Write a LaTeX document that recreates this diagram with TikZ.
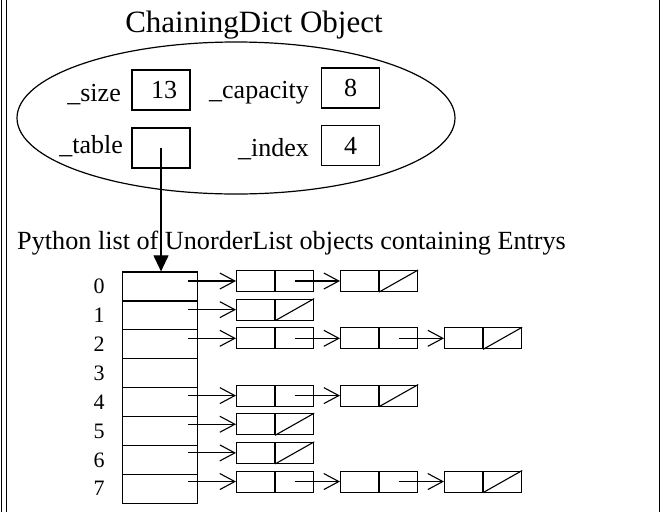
\documentclass[tikz,border=0pt]{standalone}
\usepackage{fontspec}
\setmainfont{Liberation Serif}
\usetikzlibrary{shapes.geometric,arrows.meta}
\tikzset{
  lbl/.style={font=\fontsize{26}{26}\selectfont, inner sep=0pt},
  valbox/.style={draw, line width=1.2pt, minimum width=58pt, minimum height=40pt, inner sep=0pt, font=\fontsize{26}{26}\selectfont},
  cellbox/.style={draw, line width=1.2pt, minimum width=75pt, minimum height=28.9pt, inner sep=0pt},
  fieldbox/.style={draw, line width=1.1pt, minimum width=38pt, minimum height=21pt, inner sep=0pt},
  idx/.style={font=\fontsize{22}{22}\selectfont, inner sep=0pt},
  ptr/.style={line width=1.1pt, -{Straight Barb[length=15pt,width=16pt,line width=1.1pt]}},
  tblptr/.style={line width=1.1pt, -{Triangle[length=16pt,width=15pt]}},
  border/.style={line width=1pt}
}
\begin{document}
\begin{tikzpicture}[x=1pt,y=-1pt]
\useasboundingbox (0,0) rectangle (662,512);
% page borders
\draw[border] (1.5,0) -- (1.5,512);
\draw[border] (6,0) -- (6,512);
\draw[border] (659,0) -- (659,512);

% title
\node[font=\fontsize{31}{31}\selectfont, anchor=base, inner sep=0pt] (title) at (254,32) {ChainingDict Object};

% object ellipse
\node[ellipse, draw, line width=1.2pt, minimum width=438pt, minimum height=152pt, inner sep=0pt] (obj) at (236,118) {};

% fields
\node[lbl, anchor=base east] (lsize) at (121,101) {\_size};
\node[valbox] (size) at (161,90) {\hspace{6pt}13};
\node[lbl, anchor=base east] (lcap) at (309,98) {\_capacity};
\node[valbox] (cap) at (350.5,88) {8};
\node[lbl, anchor=base east] (ltable) at (123,153) {\_table};
\node[valbox] (tbl) at (161,148) {};
\node[lbl, anchor=base east] (lindex) at (309,156) {\_index};
\node[valbox] (index) at (350.5,145.5) {4};

% list caption
\node[font=\fontsize{26.2}{26.2}\selectfont, anchor=base west, inner sep=0pt] (cap2) at (17,249) {Python list of UnorderList objects containing Entrys};

% array of buckets
\foreach \k in {0,...,7} {
  \node[cellbox] (arr\k) at (160.2,{286.45+28.9*\k}) {};
  \node[idx] (i\k) at (99,{286.45+28.9*\k}) {\k};
}

% pointer from _table
\draw[tblptr] (tbl.center) -- (tbl.center |- arr0.north);

% chains: row / number of nodes
\foreach \r/\n in {0/2,1/1,2/3,4/2,5/1,6/1,7/3} {
  \pgfmathsetmacro{\yy}{281+28.65*\r}
  \coordinate (s\r) at (188,\yy);
  \foreach \j in {1,...,\n} {
    \pgfmathsetmacro{\xx}{236+104*(\j-1)}
    \node[fieldbox, anchor=west] (n\r-\j a) at (\xx,\yy) {};
    \node[fieldbox, anchor=west] (n\r-\j b) at (n\r-\j a.east) {};
  }
  \draw[ptr] (s\r) -- (n\r-1a.west);
  \draw[line width=1.1pt] (n\r-\n b.south west) -- (n\r-\n b.north east);
}
% links between nodes
\foreach \r/\j/\k in {0/1/2,2/1/2,2/2/3,4/1/2,7/1/2,7/2/3} {
  \draw[ptr] (n\r-\j b.center) -- (n\r-\k a.west);
}
\end{tikzpicture}
\end{document}
